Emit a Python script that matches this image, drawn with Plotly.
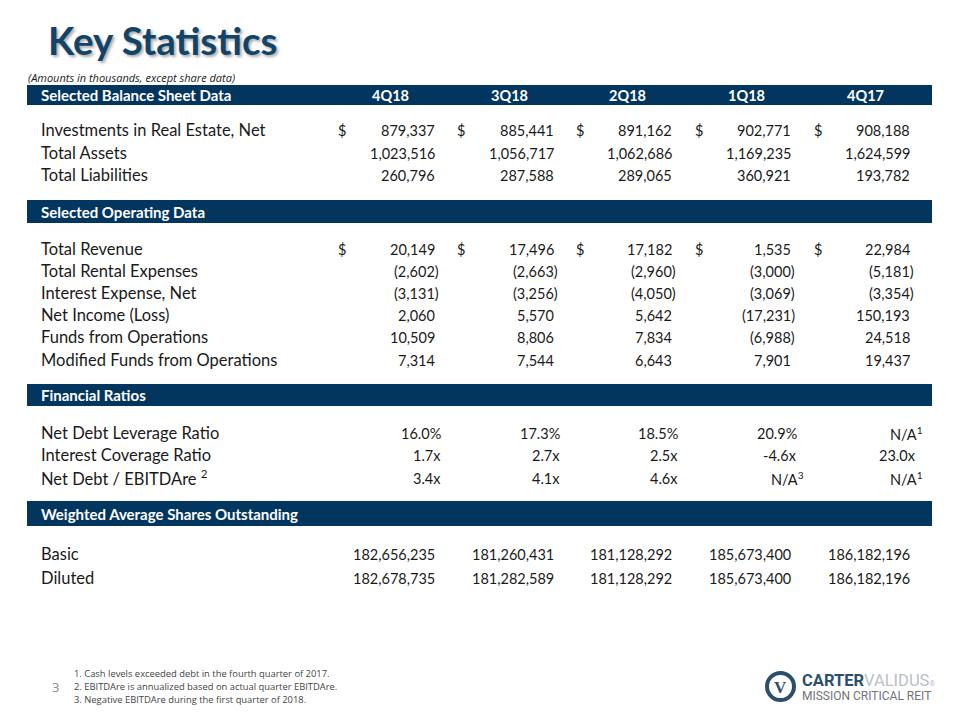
import plotly.graph_objects as go

# ---------------- data ----------------
quarters = ["4Q18", "3Q18", "2Q18", "1Q18", "4Q17"]

balance_labels = ["Investments in Real Estate, Net", "Total Assets", "Total Liabilities"]
balance_values = [
    [879337, 885441, 891162, 902771, 908188],
    [1023516, 1056717, 1062686, 1169235, 1624599],
    [260796, 287588, 289065, 360921, 193782],
]
balance_dollar = [True, False, False]

operating_labels = ["Total Revenue", "Total Rental Expenses", "Interest Expense, Net",
                    "Net Income (Loss)", "Funds from Operations", "Modified Funds from Operations"]
operating_values = [
    [20149, 17496, 17182, 1535, 22984],
    [-2602, -2663, -2960, -3000, -5181],
    [-3131, -3256, -4050, -3069, -3354],
    [2060, 5570, 5642, -17231, 150193],
    [10509, 8806, 7834, -6988, 24518],
    [7314, 7544, 6643, 7901, 19437],
]
operating_dollar = [True, False, False, False, False, False]

ratio_labels = ["Net Debt Leverage Ratio", "Interest Coverage Ratio", "Net Debt / EBITDAre <sup>2</sup>"]
ratio_values = [
    [16.0, 17.3, 18.5, 20.9, None],
    [1.7, 2.7, 2.5, -4.6, 23.0],
    [3.4, 4.1, 4.6, None, None],
]
ratio_suffix = ["%", "x", "x"]
ratio_footnotes = [
    [None, None, None, None, 1],
    [None, None, None, None, None],
    [None, None, None, 3, 1],
]

share_labels = ["Basic", "Diluted"]
share_values = [
    [182656235, 181260431, 181128292, 185673400, 186182196],
    [182678735, 181282589, 181128292, 185673400, 186182196],
]

section_titles = ["Selected Balance Sheet Data", "Selected Operating Data",
                  "Financial Ratios", "Weighted Average Shares Outstanding"]

footnotes = [
    "1. Cash levels exceeded debt in the fourth quarter of 2017.",
    "2. EBITDAre is annualized based on actual quarter EBITDAre.",
    "3. Negative EBITDAre during the first quarter of 2018.",
]

# ---------------- layout helpers ----------------
NAVY = "#03365f"
TEXT = "#1a1a1a"
FONT = "Lato"
W, H = 960, 720
OFF = 8  # page body margin compensation

col_right = [437, 556, 674, 793, 912]
dollar_x = [336, 455, 574, 693, 812]
label_x = 39
bar_x0, bar_x1 = 27, 932
LABEL_SIZE = 16.5
NUM_SIZE = 14.5

fig = go.Figure()
shapes = []
ann = []


def text(x, y, s, size=LABEL_SIZE, color=TEXT, anchor="left", bold=False, italic=False, family=FONT, **kw):
    if bold:
        s = f"<b>{s}</b>"
    if italic:
        s = f"<i>{s}</i>"
    ann.append(dict(x=x, y=y, xref="x", yref="y", text=s, showarrow=False,
                    xanchor=anchor, yanchor="middle",
                    font=dict(size=size, color=color, family=family, **kw)))


def bar(y0, y1, title, with_quarters=False):
    shapes.append(dict(type="rect", xref="x", yref="y", x0=bar_x0, x1=bar_x1, y0=y0, y1=y1,
                       fillcolor=NAVY, line=dict(width=0), layer="below"))
    yc = (y0 + y1) / 2
    text(label_x, yc, title, size=15, color="white", bold=True)
    if with_quarters:
        for q, r in zip(quarters, col_right):
            text(r - 67, yc, q, size=14.5, color="white", bold=True)


def fmt_num(v):
    if v < 0:
        return f"({abs(v):,})"
    return f"{v:,}"


def money_rows(labels, values, dollars, ys):
    for lab, vals, dol, y in zip(labels, values, dollars, ys):
        text(label_x, y, lab)
        for j, v in enumerate(vals):
            s = fmt_num(v)
            xr = col_right[j] + (4 if v < 0 else 0)
            text(xr, y, s, size=NUM_SIZE, anchor="right")
            if dol:
                text(dollar_x[j], y, "$", size=NUM_SIZE)


# Title
ann.append(dict(x=46, y=40, xref="x", yref="y", text="<b>Key Statistics</b>", showarrow=False,
                xanchor="left", yanchor="middle",
                font=dict(size=38.5, color="#124468", family=FONT,
                          shadow="2px 2px 3px rgba(0,0,0,0.35)")))
text(26, 77, "(Amounts in thousands, except share data)", size=11, italic=True, family="Open Sans")

# Section 1
bar(85, 105, section_titles[0], with_quarters=True)
money_rows(balance_labels, balance_values, balance_dollar, [130, 153, 175])

# Section 2
bar(200, 223, section_titles[1])
money_rows(operating_labels, operating_values, operating_dollar, [249, 271, 293, 315, 337, 360])

# Section 3
bar(384, 406, section_titles[2])
for lab, vals, suf, fns, y in zip(ratio_labels, ratio_values, ratio_suffix, ratio_footnotes, [433, 455, 478]):
    text(label_x, y, lab)
    for j, (v, fn) in enumerate(zip(vals, fns)):
        if v is None:
            s = "N/A"
        else:
            s = f"{v:.1f}{suf}"
        if fn is not None:
            s = f"{s}<sup>{fn}</sup>"
            xr = col_right[j] + 13
        else:
            xr = col_right[j] + 6
        text(xr, y, s, size=NUM_SIZE, anchor="right")

# Section 4
bar(501, 526, section_titles[3])
for lab, vals, y in zip(share_labels, share_values, [554, 578]):
    text(label_x, y, lab)
    for j, v in enumerate(vals):
        text(col_right[j], y, f"{v:,}", size=NUM_SIZE, anchor="right")

# Footnotes
for i, fnt in enumerate(footnotes):
    text(72, 673 + i * 13, fnt, size=9.4, color="#444444", family="Open Sans")
text(50, 687, "3", size=13, color="#8a8a8a", family="Open Sans")

# Logo
shapes.append(dict(type="circle", xref="x", yref="y", x0=767, x1=794, y0=673, y1=700,
                   line=dict(color="#2c4f6e", width=4), fillcolor="white"))
text(780.5, 687, "<b>V</b>", size=17, color="#2c4f6e", anchor="center", family="Liberation Serif")
ann.append(dict(x=800, y=680, xref="x", yref="y",
                text="<b><span style='color:#2c4f6e'>CARTER</span></b><span style='color:#b9c0c7'>VALIDUS</span><span style='color:#b9c0c7;font-size:7px'>®</span>",
                showarrow=False, xanchor="left", yanchor="middle",
                font=dict(size=16.5, family="Roboto", color="#2c4f6e")))
text(800, 696, "MISSION CRITICAL REIT", size=12, color="#6f7478", family="Roboto")

fig.update_layout(
    width=W, height=H,
    margin=dict(l=0, r=0, t=0, b=0),
    paper_bgcolor="white", plot_bgcolor="white",
    xaxis=dict(range=[OFF, W + OFF], visible=False, fixedrange=True),
    yaxis=dict(range=[H + OFF, OFF], visible=False, fixedrange=True),
    shapes=shapes, annotations=ann, showlegend=False,
)

fig.write_html("out.html")
